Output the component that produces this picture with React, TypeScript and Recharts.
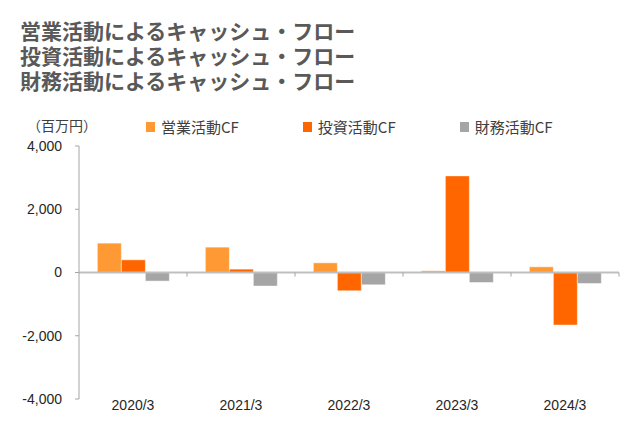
import { BarChart, Bar, XAxis, YAxis, ReferenceLine } from 'recharts';

const categories = ['2020/3', '2021/3', '2022/3', '2023/3', '2024/3'];
const operatingCF = [929, 802, 306, 54, 180];
const investingCF = [401, 107, -578, 3055, -1663];
const financingCF = [-272, -430, -389, -316, -348];
const yTicks = [-4000, -2000, 0, 2000, 4000];

const titleLines = [
  '営業活動によるキャッシュ・フロー',
  '投資活動によるキャッシュ・フロー',
  '財務活動によるキャッシュ・フロー',
];

const series = [
  { key: 'operating', name: '営業活動CF', color: '#FF9933' },
  { key: 'investing', name: '投資活動CF', color: '#FF6600' },
  { key: 'financing', name: '財務活動CF', color: '#A5A5A5' },
];

const data = categories.map((period, i) => ({
  period,
  operating: operatingCF[i],
  investing: investingCF[i],
  financing: financingCF[i],
}));

const JP = '"Noto Sans CJK JP", "Noto Sans", sans-serif';
const NUM = '"Liberation Sans", Arial, sans-serif';

// small tick marks hanging under the zero line, in data units
const zeroTickDepth = 130;

function LegendRow() {
  return (
    <div style={{ position: 'absolute', left: 146, top: 116, display: 'flex', alignItems: 'center', fontFamily: JP, fontSize: 15, color: '#404040', whiteSpace: 'nowrap' }}>
      {series.map((s) => (
        <div key={s.key} style={{ display: 'flex', alignItems: 'center', marginRight: 64 }}>
          <span style={{ width: 9, height: 10, background: s.color, marginRight: 6, display: 'inline-block' }} />
          <span>{s.name}</span>
        </div>
      ))}
    </div>
  );
}

export default function App() {
  return (
    <div style={{ position: 'absolute', left: 0, top: 0, width: 640, height: 430, background: '#fff' }}>
      <div style={{ position: 'absolute', left: 20, top: 18, fontFamily: JP, fontWeight: 700, fontSize: 21, lineHeight: '25px', color: '#595959', whiteSpace: 'nowrap' }}>
        {titleLines.map((t) => (
          <div key={t}>{t}</div>
        ))}
      </div>
      <div style={{ position: 'absolute', left: 27, top: 115, fontFamily: JP, fontSize: 14, color: '#404040' }}>
        （百万円）
      </div>
      <LegendRow />
      <BarChart
        width={640}
        height={430}
        data={data}
        margin={{ top: 146, right: 21, bottom: 0, left: 19 }}
        barCategoryGap="17%"
        barGap={0}
      >
        <XAxis
          dataKey="period"
          height={31}
          axisLine={false}
          tickLine={false}
          tickSize={0}
          tickMargin={1}
          tick={{ fontFamily: NUM, fontSize: 14, fill: '#262626' }}
        />
        <YAxis
          width={60}
          domain={[-4000, 4000]}
          ticks={yTicks}
          interval={0}
          axisLine={{ stroke: '#A6A6A6' }}
          tickLine={{ stroke: '#A6A6A6' }}
          tickSize={4}
          tickMargin={13}
          tickFormatter={(v) => v.toLocaleString('en-US')}
          tick={{ fontFamily: NUM, fontSize: 14, fill: '#262626' }}
        />
        {series.map((s) => (
          <Bar
            key={s.key}
            dataKey={s.key}
            name={s.name}
            fill={s.color}
            stroke="#ffffff"
            strokeOpacity={0.6}
            strokeWidth={0.8}
            isAnimationActive={false}
          />
        ))}
        <ReferenceLine y={0} stroke="#BFBFBF" strokeWidth={2} />
        {categories.map((c) => (
          <ReferenceLine
            key={c}
            position="end"
            stroke="#A6A6A6"
            strokeWidth={1}
            segment={[
              { x: c, y: 0 },
              { x: c, y: -zeroTickDepth },
            ]}
          />
        ))}
      </BarChart>
    </div>
  );
}
